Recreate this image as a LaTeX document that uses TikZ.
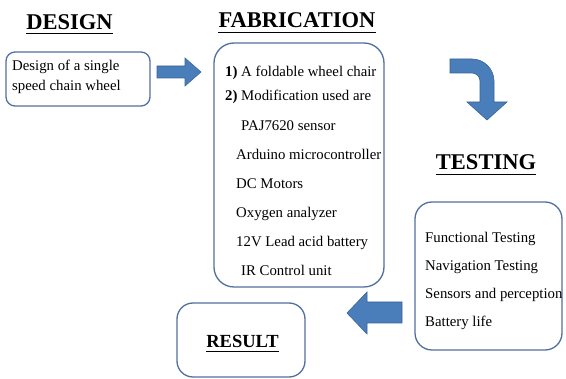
\documentclass[tikz,border=0pt]{standalone}
\usepackage{fontspec}
\setmainfont{Liberation Serif}
\newfontfamily\tnr{Liberation Serif}
\usetikzlibrary{calc}
\definecolor{boxline}{HTML}{52709F}
\definecolor{arrowfill}{HTML}{4A7EBB}
\definecolor{arrowline}{HTML}{3A6496}
\tikzset{
  box/.style={draw=boxline, line width=1.3pt, rounded corners=#1},
  box/.default=10pt,
  title/.style={anchor=base, inner sep=0pt, font=\tnr\fontsize{22.5}{26}\selectfont\bfseries},
  item/.style={anchor=base west, inner sep=0pt, font=\tnr\fontsize{14.8}{17}\selectfont},
  blockarrow/.style={fill=arrowfill, draw=arrowline, line width=0.6pt, line join=miter},
  uline/.style={line width=1.4pt}
}
\begin{document}
\begin{tikzpicture}[x=1pt,y=-1pt]
\useasboundingbox[fill=white] (0,0) rectangle (566,379);

% titles
\node[title] (tdesign) at (69.5,30) {DESIGN};
\node[title] (tfab) at (297,28) {FABRICATION};
\node[title] (ttest) at (486,170) {TESTING};
\node[title, font=\tnr\fontsize{18.5}{22}\selectfont\bfseries] (tresult) at (242.5,348) {RESULT};
\foreach \t/\d in {tdesign/3.5, tfab/4.5, ttest/4.5, tresult/3.5}{
  \draw[uline] ($(\t.base west)+(0,\d)$) -- ($(\t.base east)+(0,\d)$);
}

% boxes
\draw[box=9pt] (6,52) rectangle (150,106);
\draw[box=20pt] (214,43) rectangle (384,287);
\draw[box=17pt] (415,202) rectangle (562,350);
\draw[box=16pt] (177,303) rectangle (305,377);

% design text
\node[item] (d1) at (12,71) {Design of a single};
\node[item] (d2) at (12,91) {speed chain wheel};

% fabrication text
\node[item] (f1) at (225,77) {\textbf{1)} A foldable wheel chair};
\node[item] (f2) at (225,101) {\textbf{2)} Modification used are};
\node[item] (f3) at (241,131) {PAJ7620 sensor};
\node[item] (f4) at (236,160) {Arduino microcontroller};
\node[item] (f5) at (236,189) {DC Motors};
\node[item] (f6) at (236,218) {Oxygen analyzer};
\node[item] (f7) at (236,247) {12V Lead acid battery};
\node[item] (f8) at (241,276) {IR Control unit};

% testing text
\node[item] (t1) at (425,243) {Functional Testing};
\node[item] (t2) at (425,271) {Navigation Testing};
\node[item] (t3) at (425,299) {Sensors and perception};
\node[item] (t4) at (425,327) {Battery life};

% block arrows
\draw[blockarrow] (157,66) -- (185,66) -- (185,58) -- (201,72) -- (185,86) -- (185,78) -- (157,78) -- cycle;
\draw[blockarrow] (450,59) -- (472,59) .. controls (484.1,59) and (494,68.9) .. (494,81)
  -- (494,102) -- (507,102) -- (487,120) -- (467,102) -- (480,102) -- (480,81)
  .. controls (480,76.6) and (476.4,73) .. (472,73) -- (450,73) -- cycle;
\draw[blockarrow] (402,302) -- (367,302) -- (367,292) -- (347,313) -- (367,334) -- (367,323) -- (402,323) -- cycle;
\end{tikzpicture}
\end{document}
